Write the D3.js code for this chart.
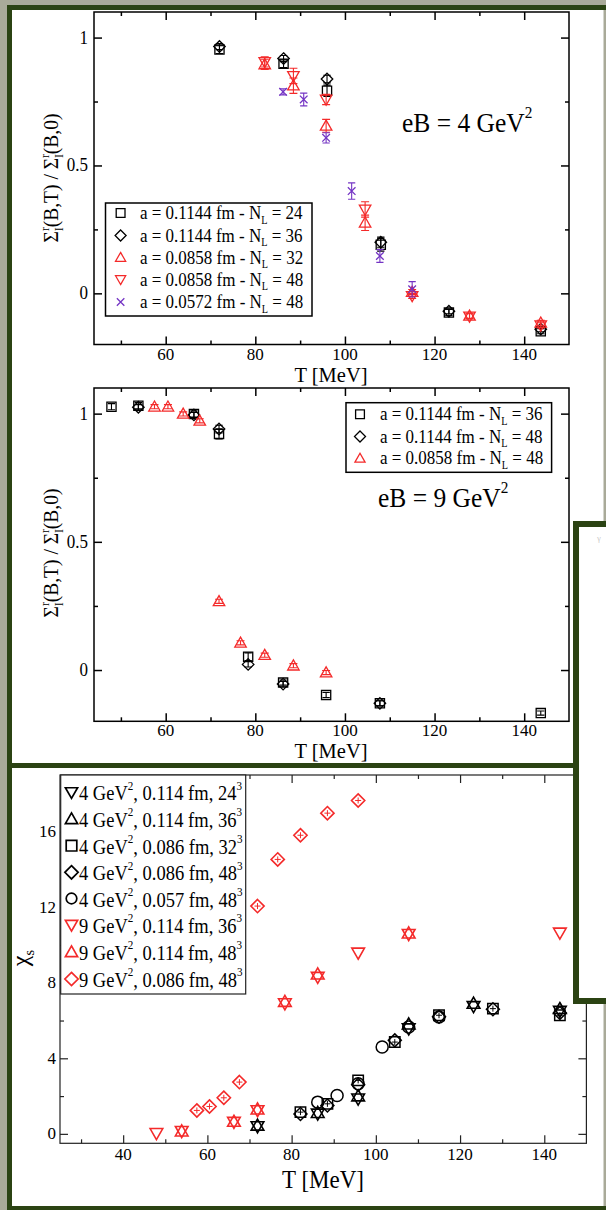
<!DOCTYPE html>
<html><head><meta charset="utf-8">
<script src="https://cdn.jsdelivr.net/npm/d3@7"></script>
<style>
body{margin:0;background:#a9aa99;}
svg{display:block;}
text{font-family:"Liberation Serif","Times New Roman",serif;fill:#000;}
</style>
</head><body>
<svg id="c" width="606" height="1210"></svg>
<script>
// ---------------- DATA ----------------
// Panel 1 : eB = 4 GeV^2, Sigma_l^r(B,T)/Sigma_l^r(B,0)
const p1_sq24_T = [72, 86.3, 96, 108, 123.2, 143.7];
const p1_sq24_V = [0.953, 0.898, 0.792, 0.19, -0.075, -0.148];
const p1_sq24_E = [0.015, 0.015, 0.022, 0.025, 0.012, 0.01];
const p1_di36_T = [72, 86.3, 96, 108, 123.2, 143.7];
const p1_di36_V = [0.965, 0.918, 0.838, 0.2, -0.07, -0.14];
const p1_di36_E = [0.012, 0.012, 0.015, 0.02, 0.01, 0.01];
const p1_up32_T = [82.1, 88.5, 95.8, 104.5, 115, 127.8, 143.7];
const p1_up32_V = [0.895, 0.812, 0.655, 0.276, 0.005, -0.088, -0.115];
const p1_up32_E = [0.02, 0.03, 0.025, 0.03, 0.01, 0.01, 0.01];
const p1_dn48_T = [82.1, 88.5, 95.8, 104.5, 115, 127.8, 143.7];
const p1_dn48_V = [0.905, 0.85, 0.758, 0.328, -0.01, -0.09, -0.125];
const p1_dn48_E = [0.02, 0.03, 0.02, 0.03, 0.01, 0.01, 0.01];
const p1_x48_T = [86.2, 90.8, 95.8, 101.5, 107.8, 115];
const p1_x48_V = [0.788, 0.758, 0.608, 0.4, 0.146, 0.016];
const p1_x48_E = [0.012, 0.025, 0.02, 0.032, 0.025, 0.03];
const p1_labels = ["a = 0.1144 fm - N", "a = 0.1144 fm - N", "a = 0.0858 fm - N", "a = 0.0858 fm - N", "a = 0.0572 fm - N"];
const p1_labelsEnd = [" = 24", " = 36", " = 32", " = 48", " = 48"];

// Panel 2 : eB = 9 GeV^2
const p2_sq36_T = [47.9, 53.9, 66.3, 71.9, 78.4, 86.2, 95.8, 107.8, 143.7];
const p2_sq36_V = [1.027, 1.031, 0.999, 0.921, 0.052, -0.049, -0.097, -0.13, -0.168];
const p2_sq36_E = [0.012, 0.012, 0.012, 0.02, 0.015, 0.01, 0.01, 0.01, 0.008];
const p2_di48_T = [53.9, 66.3, 71.9, 78.4, 86.2, 107.8];
const p2_di48_V = [1.025, 0.995, 0.94, 0.022, -0.055, -0.13];
const p2_di48_E = [0.01, 0.01, 0.015, 0.01, 0.01, 0.01];
const p2_up48_T = [57.5, 60.5, 63.9, 67.6, 71.9, 76.7, 82.1, 88.5, 95.8];
const p2_up48_V = [1.027, 1.027, 0.999, 0.972, 0.268, 0.106, 0.058, 0.017, -0.01];
const p2_up48_E = [0.008, 0.008, 0.008, 0.008, 0.008, 0.008, 0.008, 0.008, 0.008];
const p2_labels = ["a = 0.1144 fm - N", "a = 0.1144 fm - N", "a = 0.0858 fm - N"];
const p2_labelsEnd = [" = 36", " = 48", " = 48"];

// Panel 3 : chi_s
const p3_dn4_T = [71.9, 86.2, 95.8, 107.8, 123.2, 143.7];
const p3_dn4_V = [0.39, 1.06, 1.86, 5.57, 6.75, 6.5];
const p3_up4_T = [71.9, 86.2, 95.8, 107.8, 123.2, 143.7];
const p3_up4_V = [0.45, 1.12, 2.0, 5.8, 6.9, 6.62];
const p3_sq4_T = [82.1, 88.5, 95.8, 104.5, 115, 127.8, 143.7];
const p3_sq4_V = [1.15, 1.59, 2.83, 4.86, 6.28, 6.63, 6.28];
const p3_di4_T = [82.1, 88.5, 95.8, 104.5, 115, 127.8, 143.7];
const p3_di4_V = [1.05, 1.5, 2.6, 4.95, 6.2, 6.6, 6.4];
const p3_ci4_T = [86.2, 90.8, 95.8, 101.5, 107.8, 115];
const p3_ci4_V = [1.68, 2.03, 2.65, 4.6, 5.66, 6.19];
const p3_dn9_T = [47.9, 53.9, 66.3, 71.9, 78.4, 86.2, 95.8, 107.8, 143.7];
const p3_dn9_V = [0.03, 0.14, 0.62, 1.24, 6.9, 8.3, 9.58, 10.57, 10.64];
const p3_up9_T = [53.9, 66.3, 71.9, 78.4, 86.2, 107.8];
const p3_up9_V = [0.14, 0.65, 1.3, 7.0, 8.45, 10.62];
const p3_di9_T = [57.5, 60.5, 63.9, 67.6, 71.9, 76.7, 82.1, 88.5, 95.8];
const p3_di9_V = [1.24, 1.45, 1.91, 2.74, 12.06, 14.53, 15.81, 16.98, 17.65];
const p3_leg_A = ["4 GeV", "4 GeV", "4 GeV", "4 GeV", "4 GeV", "9 GeV", "9 GeV", "9 GeV"];
const p3_leg_B = [", 0.114 fm, 24", ", 0.114 fm, 36", ", 0.086 fm, 32", ", 0.086 fm, 48", ", 0.057 fm, 48", ", 0.114 fm, 36", ", 0.114 fm, 48", ", 0.086 fm, 48"];

// ticks
const xMajA = [60, 80, 100, 120, 140], xMinA = [50, 70, 90, 110, 130];
const yMajA = [0, 0.5, 1], yMinA = [0.25, 0.75];
const yLabA = ["0", "0.5", "1"];
const xMajC = [40, 60, 80, 100, 120, 140], xMinC = [30, 50, 70, 90, 110, 130];
const yMajC = [0, 4, 8, 12, 16], yMinC = [2, 6, 10, 14, 18];

// ---------------- DRAW ----------------
const GREEN = "#2b4313", RED = "#f42a2a", PURPLE = "#7434c4";
const svg = d3.select("#c");

function txt(g, x, y, parts, o) {
  o = o || {};
  const fs = o.fs || 17, sy = o.sy || 1, rot = o.rot || 0;
  const t = g.append("text")
    .attr("transform", `translate(${x},${y}) rotate(${rot}) scale(1,${sy})`)
    .attr("font-size", fs).attr("text-anchor", o.anchor || "start");
  if (typeof parts === "string") parts = [[parts]];
  let shift = 0;
  parts.forEach(p => {
    const [s, kind, dx] = p;
    const ts = t.append("tspan").text(s);
    let target = 0;
    if (kind === "sup") { ts.attr("font-size", fs * (o.supf || 0.6)); target = -fs * (o.supY || 0.45); }
    else if (kind === "sub") { ts.attr("font-size", fs * 0.6); target = fs * 0.25; }
    ts.attr("dy", target - shift);
    if (dx) ts.attr("dx", dx);
    shift = target;
  });
  return t;
}

function symbol(g, type, cx, cy, r, color, sw) {
  sw = sw || 1.3;
  let el;
  if (type === "circle") {
    el = g.append("circle").attr("cx", cx).attr("cy", cy).attr("r", r);
  } else {
    let d;
    if (type === "square") d = `M${-r},${-r}h${2*r}v${2*r}h${-2*r}Z`;
    else if (type === "diamond") { const q = r * 1.25; d = `M0,${-q}L${q},0L0,${q}L${-q},0Z`; }
    else if (type === "up") { const q = r * 1.15; d = `M0,${-q}L${q},${q*0.75}L${-q},${q*0.75}Z`; }
    else if (type === "down") { const q = r * 1.15; d = `M0,${q}L${q},${-q*0.75}L${-q},${-q*0.75}Z`; }
    else if (type === "x") { const q = r * 0.85; d = `M${-q},${-q}L${q},${q}M${q},${-q}L${-q},${q}`; }
    el = g.append("path").attr("d", d).attr("transform", `translate(${cx},${cy})`);
  }
  el.attr("fill", "none").attr("stroke", color).attr("stroke-width", sw);
}

function series(g, x, y, T, V, E, type, color, r, sw) {
  T.forEach((t, i) => {
    const cx = x(t), cy = y(V[i]);
    if (E) {
      const e = E[i], y1 = y(V[i] + e), y2 = y(V[i] - e), c = r * 0.8;
      g.append("path").attr("d", `M${cx},${y1}V${y2}M${cx-c},${y1}h${2*c}M${cx-c},${y2}h${2*c}`)
        .attr("stroke", color).attr("stroke-width", 1.1).attr("fill", "none");
    }
    symbol(g, type, cx, cy, r, color, sw);
  });
}

function axes(g, x, y, xMaj, xMin, yMaj, yMin, lw, col) {
  const [x0, x1] = x.range(), [y0, y1] = y.range();
  const add = (gen, tr, vals, len) => {
    const a = g.append("g").attr("transform", tr)
      .call(gen.tickValues(vals).tickSize(-len).tickFormat(""));
    a.select(".domain").remove();
    a.selectAll("line").attr("stroke", col).attr("stroke-width", lw);
  };
  [[xMaj, 8], [xMin, 4]].forEach(([v, L]) => {
    add(d3.axisBottom(x), `translate(0,${y0})`, v, L);
    add(d3.axisTop(x), `translate(0,${y1})`, v, L);
  });
  [[yMaj, 8], [yMin, 4]].forEach(([v, L]) => {
    add(d3.axisLeft(y), `translate(${x0},0)`, v, L);
    add(d3.axisRight(y), `translate(${x1},0)`, v, L);
  });
  g.append("rect").attr("x", x0).attr("y", y1).attr("width", x1 - x0).attr("height", y0 - y1)
    .attr("fill", "none").attr("stroke", col).attr("stroke-width", lw);
}

// frames / background
svg.append("rect").attr("x", 9.5).attr("y", 7.5).attr("width", 594).attr("height", 1200)
  .attr("fill", "#fff");
svg.append("rect").attr("x", 7).attr("y", 5).attr("width", 599).attr("height", 5).attr("fill", GREEN);
svg.append("rect").attr("x", 7).attr("y", 5).attr("width", 5).attr("height", 1205).attr("fill", GREEN);
svg.append("rect").attr("x", 7).attr("y", 1206).attr("width", 599).attr("height", 4).attr("fill", GREEN);
svg.append("rect").attr("x", 7).attr("y", 763).attr("width", 572).attr("height", 5).attr("fill", GREEN);

// ---- Panel 1 ----
{
  const g = svg.append("g");
  const x = d3.scaleLinear().domain([44, 150]).range([94, 569]);
  const y = d3.scaleLinear().domain([-0.2, 1.1]).range([344.5, 12]);
  axes(g, x, y, xMajA, xMinA, yMajA, yMinA, 1.5, "#000");
  xMajA.forEach(v => txt(g, x(v), 360, String(v), {fs: 17, anchor: "middle"}));
  yMajA.forEach((v, i) => txt(g, 88, y(v) + 6, yLabA[i], {fs: 17, anchor: "end", sy: 1.05}));
  txt(g, 331, 382, "T [MeV]", {fs: 20.5, anchor: "middle"});
  txt(g, 58, 178, [["Σ"], ["r", "sup"], ["I", "sub", -4], ["(B,T) / Σ"], ["r", "sup"], ["I", "sub", -4], ["(B,0)"]],
      {fs: 19.5, anchor: "middle", rot: -90, sy: 1.1, supY: 0.42});
  txt(g, 402, 132, [["eB = 4 GeV"], ["2", "sup"]], {fs: 25.5, sy: 1.08, supY: 0.5});
  series(g, x, y, p1_sq24_T, p1_sq24_V, p1_sq24_E, "square", "#000", 4.6);
  series(g, x, y, p1_di36_T, p1_di36_V, p1_di36_E, "diamond", "#000", 4.6);
  series(g, x, y, p1_up32_T, p1_up32_V, p1_up32_E, "up", RED, 5);
  series(g, x, y, p1_dn48_T, p1_dn48_V, p1_dn48_E, "down", RED, 5);
  series(g, x, y, p1_x48_T, p1_x48_V, p1_x48_E, "x", PURPLE, 4.5);
  // legend
  g.append("rect").attr("x", 105.5).attr("y", 203).attr("width", 206.5).attr("height", 113)
    .attr("fill", "#fff").attr("stroke", "#000").attr("stroke-width", 1.5);
  const types = ["square", "diamond", "up", "down", "x"], cols = ["#000", "#000", RED, RED, PURPLE];
  const rows = [213, 235.5, 257.5, 279.5, 302];
  rows.forEach((ry, i) => {
    symbol(g, types[i], 120.6, ry, 4.4, cols[i]);
    txt(g, 140, ry + 6, [[p1_labels[i]], ["L", "sub"], [p1_labelsEnd[i]]], {fs: 17, sy: 1.12});
  });
}

// ---- Panel 2 ----
{
  const g = svg.append("g");
  const x = d3.scaleLinear().domain([44, 150]).range([94, 569]);
  const y = d3.scaleLinear().domain([-0.2, 1.1]).range([721.3, 388]);
  axes(g, x, y, xMajA, xMinA, yMajA, yMinA, 1.5, "#000");
  xMajA.forEach(v => txt(g, x(v), 736, String(v), {fs: 17, anchor: "middle"}));
  yMajA.forEach((v, i) => txt(g, 88, y(v) + 6, yLabA[i], {fs: 17, anchor: "end", sy: 1.05}));
  txt(g, 331, 758, "T [MeV]", {fs: 20.5, anchor: "middle"});
  txt(g, 58, 553, [["Σ"], ["r", "sup"], ["I", "sub", -4], ["(B,T) / Σ"], ["r", "sup"], ["I", "sub", -4], ["(B,0)"]],
      {fs: 19.5, anchor: "middle", rot: -90, sy: 1.1, supY: 0.42});
  txt(g, 378, 507, [["eB = 9 GeV"], ["2", "sup"]], {fs: 25.5, sy: 1.08, supY: 0.5});
  series(g, x, y, p2_sq36_T, p2_sq36_V, p2_sq36_E, "square", "#000", 4.6);
  series(g, x, y, p2_di48_T, p2_di48_V, p2_di48_E, "diamond", "#000", 4.6);
  series(g, x, y, p2_up48_T, p2_up48_V, p2_up48_E, "up", RED, 5);
  g.append("rect").attr("x", 346).attr("y", 402.7).attr("width", 205.6).attr("height", 69.6)
    .attr("fill", "#fff").attr("stroke", "#000").attr("stroke-width", 1.5);
  const types = ["square", "diamond", "up"], cols = ["#000", "#000", RED];
  [414.3, 436.5, 458.3].forEach((ry, i) => {
    symbol(g, types[i], 360, ry, 4.4, cols[i]);
    txt(g, 380, ry + 6, [[p2_labels[i]], ["L", "sub"], [p2_labelsEnd[i]]], {fs: 17, sy: 1.12});
  });
}

// ---- Panel 3 ----
{
  const g = svg.append("g");
  const x = d3.scaleLinear().domain([25, 150]).range([60, 586.4]);
  const y = d3.scaleLinear().domain([-0.5, 19]).range([1143.3, 775]);
  axes(g, x, y, xMajC, xMinC, yMajC, yMinC, 1.2, "#222");
  xMajC.forEach(v => txt(g, x(v), 1160, String(v), {fs: 17, anchor: "middle", sy: 1.0}));
  yMajC.forEach(v => txt(g, 56, y(v) + 5.5, String(v), {fs: 17, anchor: "end", sy: 1.0}));
  txt(g, 323, 1188, "T [MeV]", {fs: 23, anchor: "middle", sy: 1.05});
  txt(g, 28, 958, [["χ"], ["s", "sub"]], {fs: 24, anchor: "middle", rot: -90});
  series(g, x, y, p3_dn4_T, p3_dn4_V, null, "down", "#000", 5.5, 1.6);
  series(g, x, y, p3_up4_T, p3_up4_V, null, "up", "#000", 5.5, 1.6);
  series(g, x, y, p3_sq4_T, p3_sq4_V, null, "square", "#000", 5.2, 1.5);
  series(g, x, y, p3_di4_T, p3_di4_V, null, "diamond", "#000", 5.2, 1.5);
  series(g, x, y, p3_ci4_T, p3_ci4_V, null, "circle", "#000", 6, 1.5);
  series(g, x, y, p3_dn9_T, p3_dn9_V, null, "down", RED, 5.5, 1.6);
  series(g, x, y, p3_up9_T, p3_up9_V, null, "up", RED, 5.5, 1.6);
  series(g, x, y, p3_di9_T, p3_di9_V, null, "diamond", RED, 5.3, 1.6);
  // small inner error caps
  const caps = (T, V, col) => T.forEach((t, i) => {
    g.append("path").attr("d", `M${x(t)-3},${y(V[i])}h6M${x(t)},${y(V[i])-3}v6`)
      .attr("stroke", col).attr("stroke-width", 1);
  });
  caps(p3_di9_T, p3_di9_V, RED); caps(p3_sq4_T, p3_sq4_V, "#000");
  // legend
  g.append("rect").attr("x", 60.7).attr("y", 775).attr("width", 185).attr("height", 219)
    .attr("fill", "#fff").attr("stroke", "#222").attr("stroke-width", 1.2);
  const types = ["down", "up", "square", "diamond", "circle", "down", "up", "diamond"];
  const cols = ["#000", "#000", "#000", "#000", "#000", RED, RED, RED];
  const rows = [793.3, 820, 846.7, 873.3, 899.5, 926, 953, 980];
  rows.forEach((ry, i) => {
    symbol(g, types[i], 71.5, ry - 1, 5.3, cols[i], 1.7);
    txt(g, 79, ry + 7, [[p3_leg_A[i]], ["2", "sup"], [p3_leg_B[i]], ["3", "sup"]],
        {fs: 18.5, sy: 1.15, supf: 0.6, supY: 0.5});
  });
}

// right-hand overlapping frame
svg.append("rect").attr("x", 576).attr("y", 524).attr("width", 40).attr("height", 477)
  .attr("fill", "#fff").attr("stroke", GREEN).attr("stroke-width", 6);
svg.append("text").attr("x", 597).attr("y", 545).attr("font-size", 14)
  .style("fill", "#c8c8c8").text("ᵞ");
</script>
</body></html>
